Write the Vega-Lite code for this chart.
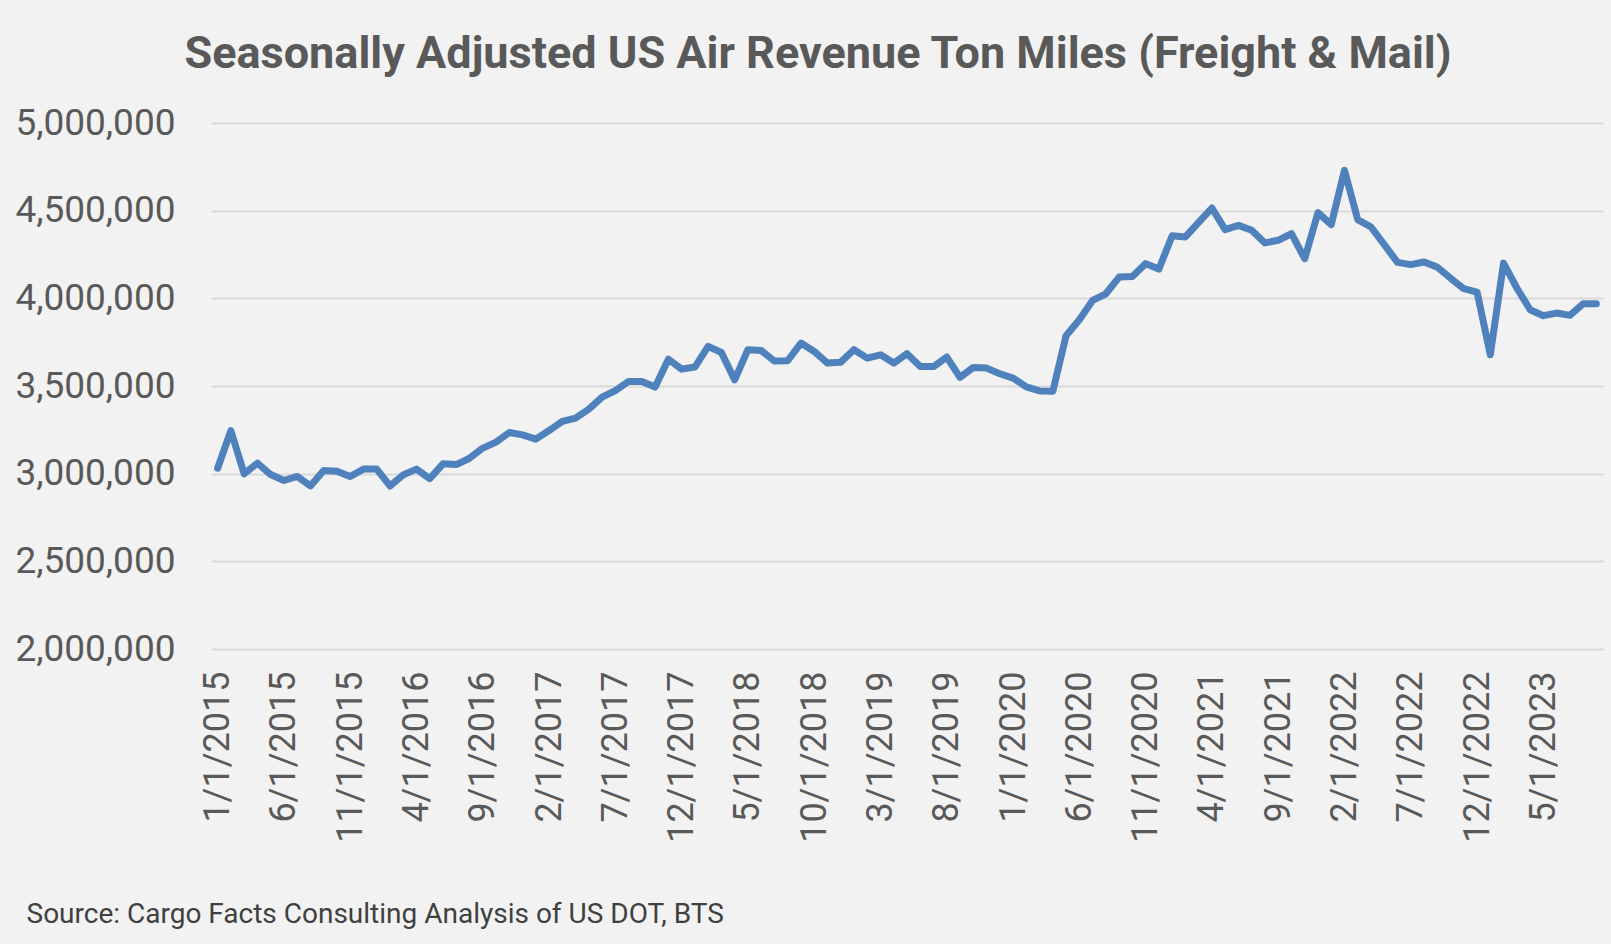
{
  "$schema": "https://vega.github.io/schema/vega-lite/v6.json",
  "width": 1392,
  "height": 526,
  "autosize": {"type": "none"},
  "padding": {"left": 211, "top": 123, "right": 8, "bottom": 295},
  "background": "#f2f2f2",
  "title": {
    "text": "Seasonally Adjusted US Air Revenue Ton Miles (Freight & Mail)",
    "font": "Roboto",
    "fontSize": 45,
    "fontWeight": "bold",
    "color": "#595959",
    "anchor": "middle",
    "dx": -89,
    "baseline": "alphabetic",
    "offset": -9
  },
  "config": {
    "view": {"stroke": null},
    "font": "Roboto"
  },
  "data": {
    "values": [
      {"date": "1/1/2015", "rtm": 3031000},
      {"date": "2/1/2015", "rtm": 3245000},
      {"date": "3/1/2015", "rtm": 2999000},
      {"date": "4/1/2015", "rtm": 3060000},
      {"date": "5/1/2015", "rtm": 2995000},
      {"date": "6/1/2015", "rtm": 2961000},
      {"date": "7/1/2015", "rtm": 2984000},
      {"date": "8/1/2015", "rtm": 2930000},
      {"date": "9/1/2015", "rtm": 3018000},
      {"date": "10/1/2015", "rtm": 3014000},
      {"date": "11/1/2015", "rtm": 2984000},
      {"date": "12/1/2015", "rtm": 3026000},
      {"date": "1/1/2016", "rtm": 3026000},
      {"date": "2/1/2016", "rtm": 2930000},
      {"date": "3/1/2016", "rtm": 2993000},
      {"date": "4/1/2016", "rtm": 3026000},
      {"date": "5/1/2016", "rtm": 2972000},
      {"date": "6/1/2016", "rtm": 3056000},
      {"date": "7/1/2016", "rtm": 3052000},
      {"date": "8/1/2016", "rtm": 3088000},
      {"date": "9/1/2016", "rtm": 3146000},
      {"date": "10/1/2016", "rtm": 3180000},
      {"date": "11/1/2016", "rtm": 3235000},
      {"date": "12/1/2016", "rtm": 3221000},
      {"date": "1/1/2017", "rtm": 3197000},
      {"date": "2/1/2017", "rtm": 3246000},
      {"date": "3/1/2017", "rtm": 3298000},
      {"date": "4/1/2017", "rtm": 3317000},
      {"date": "5/1/2017", "rtm": 3368000},
      {"date": "6/1/2017", "rtm": 3436000},
      {"date": "7/1/2017", "rtm": 3474000},
      {"date": "8/1/2017", "rtm": 3526000},
      {"date": "9/1/2017", "rtm": 3526000},
      {"date": "10/1/2017", "rtm": 3494000},
      {"date": "11/1/2017", "rtm": 3653000},
      {"date": "12/1/2017", "rtm": 3596000},
      {"date": "1/1/2018", "rtm": 3608000},
      {"date": "2/1/2018", "rtm": 3726000},
      {"date": "3/1/2018", "rtm": 3691000},
      {"date": "4/1/2018", "rtm": 3535000},
      {"date": "5/1/2018", "rtm": 3707000},
      {"date": "6/1/2018", "rtm": 3703000},
      {"date": "7/1/2018", "rtm": 3642000},
      {"date": "8/1/2018", "rtm": 3644000},
      {"date": "9/1/2018", "rtm": 3745000},
      {"date": "10/1/2018", "rtm": 3697000},
      {"date": "11/1/2018", "rtm": 3631000},
      {"date": "12/1/2018", "rtm": 3636000},
      {"date": "1/1/2019", "rtm": 3707000},
      {"date": "2/1/2019", "rtm": 3659000},
      {"date": "3/1/2019", "rtm": 3678000},
      {"date": "4/1/2019", "rtm": 3631000},
      {"date": "5/1/2019", "rtm": 3684000},
      {"date": "6/1/2019", "rtm": 3611000},
      {"date": "7/1/2019", "rtm": 3611000},
      {"date": "8/1/2019", "rtm": 3665000},
      {"date": "9/1/2019", "rtm": 3549000},
      {"date": "10/1/2019", "rtm": 3606000},
      {"date": "11/1/2019", "rtm": 3602000},
      {"date": "12/1/2019", "rtm": 3570000},
      {"date": "1/1/2020", "rtm": 3545000},
      {"date": "2/1/2020", "rtm": 3495000},
      {"date": "3/1/2020", "rtm": 3472000},
      {"date": "4/1/2020", "rtm": 3470000},
      {"date": "5/1/2020", "rtm": 3787000},
      {"date": "6/1/2020", "rtm": 3878000},
      {"date": "7/1/2020", "rtm": 3988000},
      {"date": "8/1/2020", "rtm": 4026000},
      {"date": "9/1/2020", "rtm": 4121000},
      {"date": "10/1/2020", "rtm": 4125000},
      {"date": "11/1/2020", "rtm": 4198000},
      {"date": "12/1/2020", "rtm": 4167000},
      {"date": "1/1/2021", "rtm": 4357000},
      {"date": "2/1/2021", "rtm": 4350000},
      {"date": "3/1/2021", "rtm": 4433000},
      {"date": "4/1/2021", "rtm": 4515000},
      {"date": "5/1/2021", "rtm": 4392000},
      {"date": "6/1/2021", "rtm": 4416000},
      {"date": "7/1/2021", "rtm": 4388000},
      {"date": "8/1/2021", "rtm": 4316000},
      {"date": "9/1/2021", "rtm": 4331000},
      {"date": "10/1/2021", "rtm": 4369000},
      {"date": "11/1/2021", "rtm": 4226000},
      {"date": "12/1/2021", "rtm": 4489000},
      {"date": "1/1/2022", "rtm": 4420000},
      {"date": "2/1/2022", "rtm": 4730000},
      {"date": "3/1/2022", "rtm": 4449000},
      {"date": "4/1/2022", "rtm": 4407000},
      {"date": "5/1/2022", "rtm": 4306000},
      {"date": "6/1/2022", "rtm": 4205000},
      {"date": "7/1/2022", "rtm": 4192000},
      {"date": "8/1/2022", "rtm": 4207000},
      {"date": "9/1/2022", "rtm": 4178000},
      {"date": "10/1/2022", "rtm": 4115000},
      {"date": "11/1/2022", "rtm": 4055000},
      {"date": "12/1/2022", "rtm": 4036000},
      {"date": "1/1/2023", "rtm": 3678000},
      {"date": "2/1/2023", "rtm": 4201000},
      {"date": "3/1/2023", "rtm": 4059000},
      {"date": "4/1/2023", "rtm": 3935000},
      {"date": "5/1/2023", "rtm": 3901000},
      {"date": "6/1/2023", "rtm": 3916000},
      {"date": "7/1/2023", "rtm": 3903000},
      {"date": "8/1/2023", "rtm": 3969000},
      {"date": "9/1/2023", "rtm": 3969000}
    ]
  },
  "mark": {"type": "line", "color": "#4f81bd", "strokeWidth": 7, "strokeJoin": "round", "strokeCap": "round"},
  "encoding": {
    "x": {
      "field": "date",
      "type": "ordinal",
      "sort": null,
      "scale": {"type": "point", "padding": 0.5},
      "axis": {
        "values": ["1/1/2015", "6/1/2015", "11/1/2015", "4/1/2016", "9/1/2016", "2/1/2017", "7/1/2017", "12/1/2017", "5/1/2018", "10/1/2018", "3/1/2019", "8/1/2019", "1/1/2020", "6/1/2020", "11/1/2020", "4/1/2021", "9/1/2021", "2/1/2022", "7/1/2022", "12/1/2022", "5/1/2023"],
        "labelAngle": -90,
        "labelFontSize": 36,
        "labelColor": "#595959",
        "labelFont": "Roboto",
        "labelPadding": 22,
        "labelOverlap": false,
        "ticks": false,
        "domain": false,
        "grid": false,
        "title": "Source: Cargo Facts Consulting Analysis of US DOT, BTS",
        "titleFont": "Roboto",
        "titleFontSize": 28,
        "titleFontWeight": "normal",
        "titleColor": "#404040",
        "titleAnchor": "start",
        "titleAlign": "left",
        "titleBaseline": "middle",
        "titleX": -185,
        "titleY": 265
      }
    },
    "y": {
      "field": "rtm",
      "type": "quantitative",
      "scale": {"domain": [2000000, 5000000], "nice": false, "zero": false},
      "axis": {
        "values": [2000000, 2500000, 3000000, 3500000, 4000000, 4500000, 5000000],
        "format": ",.0f",
        "labelFontSize": 37,
        "labelColor": "#595959",
        "labelFont": "Roboto",
        "labelPadding": 36,
        "ticks": false,
        "domain": false,
        "gridColor": "#d9d9d9",
        "gridWidth": 2,
        "title": null
      }
    }
  }
}
